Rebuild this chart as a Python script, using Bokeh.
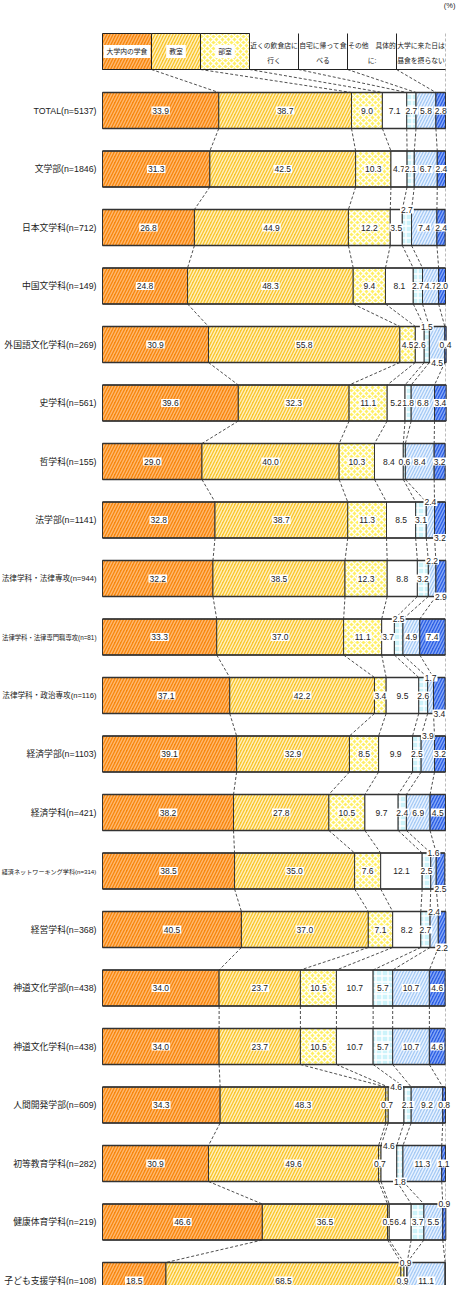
import numpy as np
from bokeh.plotting import figure
from bokeh.models import Range1d, ColumnDataSource
from bokeh.core.properties import value
from bokeh.embed import file_html
from bokeh.resources import INLINE

# ---------------- data ----------------
categories = [
    "TOTAL(n=5137)", "文学部(n=1846)", "日本文学科(n=712)", "中国文学科(n=149)",
    "外国語文化学科(n=269)", "史学科(n=561)", "哲学科(n=155)", "法学部(n=1141)",
    "法律学科・法律専攻(n=944)", "法律学科・法律専門職専攻(n=81)", "法律学科・政治専攻(n=116)",
    "経済学部(n=1103)", "経済学科(n=421)", "経済ネットワーキング学科(n=314)", "経営学科(n=368)",
    "神道文化学部(n=438)", "神道文化学科(n=438)", "人間開発学部(n=609)", "初等教育学科(n=282)",
    "健康体育学科(n=219)", "子ども支援学科(n=108)",
]
series_names = ["大学内の学食", "教室", "部室", "近くの飲食店に行く", "自宅に帰って食べる",
                "その他 具体的に:", "大学に来た日は昼食を摂らない"]
legend_lines = [["大学内の学食"], ["教室"], ["部室"], ["近くの飲食店に", "行く"],
                ["自宅に帰って食", "べる"], ["その他　具体的", "に:"], ["大学に来た日は", "昼食を摂らない"]]

gakushoku = [33.9, 31.3, 26.8, 24.8, 30.9, 39.6, 29.0, 32.8, 32.2, 33.3, 37.1,
             39.1, 38.2, 38.5, 40.5, 34.0, 34.0, 34.3, 30.9, 46.6, 18.5]
kyoshitsu = [38.7, 42.5, 44.9, 48.3, 55.8, 32.3, 40.0, 38.7, 38.5, 37.0, 42.2,
             32.9, 27.8, 35.0, 37.0, 23.7, 23.7, 48.3, 49.6, 36.5, 68.5]
bushitsu = [9.0, 10.3, 12.2, 9.4, 4.5, 11.1, 10.3, 11.3, 12.3, 11.1, 3.4,
            8.5, 10.5, 7.6, 7.1, 10.5, 10.5, 0.7, 0.7, 0.5, 0.9]
inshokuten = [7.1, 4.7, 3.5, 8.1, 2.6, 5.2, 8.4, 8.5, 8.8, 3.7, 9.5,
              9.9, 9.7, 12.1, 8.2, 10.7, 10.7, 4.6, 4.6, 6.4, 0.9]
jitaku = [2.7, 2.1, 2.7, 2.7, 1.5, 1.8, 0.6, 3.1, 3.2, 2.5, 2.6,
          2.5, 2.4, 2.5, 2.7, 5.7, 5.7, 2.1, 1.8, 3.7, 0.0]
sonota = [5.8, 6.7, 7.4, 4.7, 4.5, 6.8, 8.4, 2.4, 2.2, 4.9, 1.7,
          3.9, 6.9, 1.6, 2.4, 10.7, 10.7, 9.2, 11.3, 5.5, 11.1]
torazu = [2.8, 2.4, 2.4, 2.0, 0.4, 3.4, 3.2, 3.2, 2.9, 7.4, 3.4,
          3.2, 4.5, 2.5, 2.2, 4.6, 4.6, 0.8, 1.1, 0.9, 0.0]
series_values = [gakushoku, kyoshitsu, bushitsu, inshokuten, jitaku, sonota, torazu]

# labels moved onto the bar's top (-1) / bottom (+1) edge: (row, series)
label_edge = {(2, 4): -1, (4, 4): -1, (4, 5): 1, (7, 5): -1, (7, 6): 1, (8, 5): -1, (8, 6): 1,
              (9, 4): -1, (10, 5): -1, (10, 6): 1, (11, 5): -1, (13, 5): -1, (13, 6): 1,
              (14, 5): -1, (14, 6): 1, (17, 3): -1, (18, 3): -1, (18, 4): 1, (19, 6): -1,
              (20, 3): -1}

# ---------------- styles ----------------
fills = ["#F7870C", "#F9C52C", "#FFEF66", "#FFFFFF", "#CDF3FA", "#A6CBF5", "#2C5FE4"]
hatch_colors = ["#FFB870", "#FFF0C0", "#FFFFFF", "#FFFFFF", "#FFFFFF", "#EAF3FF", "#86A8F6"]
hatch_patterns = ["/", "/", "x", " ", "+", "/", "/"]
HATCH_SCALE = 6
HATCH_W = 1.4

W, H = 457, 1285
PX_PER_PCT = 3.43
X0_PX = 102
ROW0_PX, ROW_PX, BAR_PX = 110, 58.5, 36
BAR_H = BAR_PX / ROW_PX
HB = BAR_H / 2

def ypx(py):
    return (py - ROW0_PX) / ROW_PX

NUM_FONT = "'Liberation Sans Narrow', 'Liberation Sans', sans-serif"
CAT_FONT = "'Liberation Sans Narrow', 'Liberation Sans', 'Noto Sans CJK JP', sans-serif"

p = figure(width=W, height=H, output_backend="svg", toolbar_location=None,
           x_range=Range1d(-X0_PX / PX_PER_PCT, (W - X0_PX) / PX_PER_PCT),
           y_range=Range1d(ypx(H), ypx(0)), min_border=0)
p.xaxis.visible = False
p.yaxis.visible = False
p.xgrid.visible = False
p.ygrid.visible = False
p.outline_line_color = None
p.background_fill_color = "white"
p.border_fill_color = "white"

n = len(categories)
idx = np.arange(n)
vals = np.array(series_values)
cum = np.cumsum(vals, axis=0)
left = cum - vals

# ---- 100% grey dashed line
leg_top, leg_bot = ypx(33), ypx(69)
p.segment(x0=[100], y0=[leg_top], x1=[100], y1=[ypx(H)], line_color="#BBBBBB",
          line_width=1, line_dash="3 2")

# ---- series lines
sx0, sy0, sx1, sy1 = [], [], [], []
for k in range(6):
    sx0.append((k + 1) * 100 / 7); sy0.append(leg_bot)
    sx1.append(cum[k, 0]); sy1.append(-HB)
    for i in range(n - 1):
        sx0.append(cum[k, i]); sy0.append(i + HB)
        sx1.append(cum[k, i + 1]); sy1.append(i + 1 - HB)
p.segment(x0=sx0, y0=sy0, x1=sx1, y1=sy1, line_color="#222222", line_width=0.8,
          line_dash="3 2")

# ---- bars
for s in range(7):
    src = ColumnDataSource(dict(y=idx, left=left[s], right=cum[s]))
    p.hbar(y="y", left="left", right="right", height=BAR_H, source=src,
           fill_color=fills[s], hatch_pattern=hatch_patterns[s], hatch_color=hatch_colors[s],
           hatch_scale=HATCH_SCALE, hatch_weight=HATCH_W, line_color="#333333", line_width=1)
p.segment(x0=np.zeros(n), y0=idx - HB, x1=cum[-1], y1=idx - HB, line_color="#333333", line_width=1.6)
p.segment(x0=np.zeros(n), y0=idx + HB, x1=cum[-1], y1=idx + HB, line_color="#333333", line_width=1.6)

# ---- value labels
lx, ly, lt = [], [], []
for s in range(7):
    for i in range(n):
        v = vals[s, i]
        if v <= 0:
            continue
        lx.append(left[s, i] + v / 2)
        ly.append(i + label_edge.get((i, s), 0) * HB)
        lt.append(f"{v:.1f}")
p.text(x=lx, y=ly, text=lt, text_align="center", text_baseline="middle",
       text_font=value(NUM_FONT), text_font_size="8.5px", text_color="#222222",
       background_fill_color="white", padding=1)

# ---- category labels
def fit_size(t):
    fw = sum(1 for c in t if ord(c) > 0x2000)
    asc = len(t) - fw
    return f"{min(8.8, 95 / (fw + 0.5 * asc)):.2f}px"

cat_src = ColumnDataSource(dict(x=[-6 / PX_PER_PCT] * n, y=idx, text=categories,
                                size=[fit_size(t) for t in categories]))
p.text(x="x", y="y", text="text", source=cat_src, text_align="right", text_baseline="middle",
       text_font=value(CAT_FONT), text_font_size="size", text_color="#222222")

# ---- legend boxes
bw = 100 / 7
p.quad(left=[k * bw for k in range(3)], right=[(k + 1) * bw for k in range(3)],
       top=[leg_top] * 3, bottom=[leg_bot] * 3, fill_color=fills[:3],
       hatch_pattern=hatch_patterns[:3], hatch_color=hatch_colors[:3], hatch_scale=HATCH_SCALE,
       hatch_weight=HATCH_W, line_color="#222222", line_width=1)
p.segment(x0=[k * bw for k in range(3, 7)], y0=[leg_top] * 4,
          x1=[k * bw for k in range(3, 7)], y1=[leg_bot] * 4, line_color="#222222", line_width=1)
p.segment(x0=[0], y0=[leg_bot], x1=[100], y1=[leg_bot], line_color="#222222", line_width=1.2)

tx, ty, tt = [], [], []
for k in range(7):
    lines = legend_lines[k]
    if len(lines) == 1:
        continue
    for j, ln in enumerate(lines):
        tx.append((k + 0.5) * bw); ty.append(ypx(45 + 15 * j)); tt.append(ln)
p.text(x=tx, y=ty, text=tt, text_align="center", text_baseline="middle",
       text_font=value(CAT_FONT), text_font_size="6.8px", text_color="#222222")
p.text(x=[(k + 0.5) * bw for k in range(3)], y=[ypx(51)] * 3,
       text=[legend_lines[k][0] for k in range(3)], text_align="center", text_baseline="middle",
       text_font=value(CAT_FONT), text_font_size="6.8px", text_color="#222222",
       background_fill_color="white", padding=3)

# ---- unit
p.text(x=[(W - 2 - X0_PX) / PX_PER_PCT], y=[ypx(5)], text=["(%)"], text_align="right",
       text_baseline="middle", text_font=value(CAT_FONT), text_font_size="7.5px",
       text_color="#222222")

open("out.html", "w").write(file_html(p, INLINE))
